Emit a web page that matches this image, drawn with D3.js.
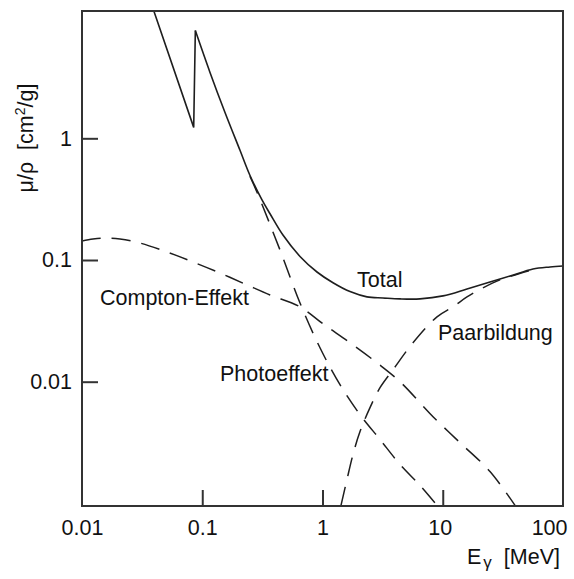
<!DOCTYPE html>
<html>
<head>
<meta charset="utf-8">
<script src="https://cdn.jsdelivr.net/npm/d3@7"></script>
<style>
  html, body { margin: 0; padding: 0; background: #fff; }
  svg { display: block; }
  text { font-family: "Liberation Sans", Arial, Helvetica, sans-serif; fill: #111; }
</style>
</head>
<body>
<svg id="chart" width="574" height="579"></svg>
<script>
// ---- data (photon energy in MeV, mass attenuation coefficient in cm^2/g) ----
const totalBelowEdgeE  = [0.0397, 0.0849];
const totalBelowEdgeMu = [11.0, 1.23];
const totalE  = [0.0876, 0.116, 0.1546, 0.206, 0.249, 0.314, 0.366, 0.469, 0.650, 0.900, 1.223, 1.693, 2.344, 3.185, 4.41, 6.47, 10.05, 15.9, 24.7, 36.3, 56.3, 78, 100];
const totalMu = [7.68, 3.48, 1.63, 0.797, 0.497, 0.312, 0.240, 0.1603, 0.1070, 0.0797, 0.0650, 0.0550, 0.0498, 0.0488, 0.0479, 0.0479, 0.0507, 0.0578, 0.0660, 0.0739, 0.0844, 0.0877, 0.0893];

const photoE  = [0.249, 0.2853, 0.4432, 0.650, 0.953, 1.398, 2.051, 3.008, 4.41, 6.47, 8.96];
const photoMu = [0.488, 0.3607, 0.1208, 0.0444, 0.0190, 0.00945, 0.00536, 0.00335, 0.00209, 0.001405, 0.000963];

const comptonE  = [0.01, 0.01234, 0.01553, 0.0207, 0.0304, 0.0509, 0.0838, 0.1405, 0.2356, 0.366, 0.650, 1.0097, 1.693, 2.84, 4.41, 8.30, 13.9, 24.7, 39.9];
const comptonMu = [0.1431, 0.1486, 0.1515, 0.1486, 0.1378, 0.1163, 0.0963, 0.0782, 0.0624, 0.0516, 0.0412, 0.0299, 0.0209, 0.0143, 0.0100, 0.00516, 0.00316, 0.00183, 0.000963];

const paarE  = [1.425, 1.598, 1.793, 2.051, 2.483, 3.008, 3.857, 5.656, 8.96, 12.17, 15.9, 21.6, 29.9, 39.9, 58.5];
const paarMu = [0.000963, 0.001573, 0.002521, 0.00389, 0.00612, 0.00893, 0.01254, 0.0209, 0.0341, 0.0412, 0.0497, 0.0590, 0.0686, 0.0753, 0.0844];

const xTickValues = [0.01, 0.1, 1, 10, 100];
const xTickLabels = ["0.01", "0.1", "1", "10", "100"];
const yTickValues = [0.01, 0.1, 1];
const yTickLabels = ["0.01", "0.1", "1"];

const curveLabels = ["Total", "Compton-Effekt", "Photoeffekt", "Paarbildung"];

// ---- layout ----
const pLeft = 82, pRight = 563, pTop = 11, pBottom = 506;
const svg = d3.select("#chart");

const x = d3.scaleLog().domain([0.01, 100]).range([pLeft, pRight]);
const y = d3.scaleLog().domain([0.000952, 11.12]).range([pBottom, pTop]);

svg.append("defs").append("clipPath").attr("id", "plotclip")
  .append("rect").attr("x", pLeft).attr("y", pTop).attr("width", pRight - pLeft).attr("height", pBottom - pTop);

const lineColor = "#1e1e1e";
const dash = "19,11";

const zip = (a, b) => a.map((v, i) => [v, b[i]]);
const smooth = d3.line().x(d => x(d[0])).y(d => y(d[1])).curve(d3.curveCatmullRom.alpha(0.5));
const straight = d3.line().x(d => x(d[0])).y(d => y(d[1])).curve(d3.curveLinear);

const plot = svg.append("g").attr("clip-path", "url(#plotclip)");

// dashed components
[[comptonE, comptonMu], [photoE, photoMu], [paarE, paarMu]].forEach(([e, m]) => {
  plot.append("path")
    .attr("d", smooth(zip(e, m)))
    .attr("fill", "none")
    .attr("stroke", lineColor)
    .attr("stroke-width", 1.5)
    .attr("stroke-dasharray", dash);
});

// total: straight part below K edge + jump, then smooth part
const totalLow = zip(totalBelowEdgeE, totalBelowEdgeMu).concat([[totalE[0], totalMu[0]]]);
plot.append("path")
  .attr("d", straight(totalLow))
  .attr("fill", "none").attr("stroke", lineColor).attr("stroke-width", 1.6)
  .attr("stroke-linejoin", "miter");
plot.append("path")
  .attr("d", smooth(zip(totalE, totalMu)))
  .attr("fill", "none").attr("stroke", lineColor).attr("stroke-width", 1.6);

// axes ticks
const fontSize = 21.5;
const xAxis = d3.axisBottom(x).tickValues(xTickValues)
  .tickFormat((d, i) => xTickLabels[i]).tickSize(-16).tickPadding(14);
const gx = svg.append("g").attr("transform", `translate(0,${pBottom})`).call(xAxis);
gx.select(".domain").remove();
gx.selectAll(".tick line").attr("stroke", "#333").attr("stroke-width", 2)
  .attr("display", d => (d === 0.01 || d === 100) ? "none" : null);
gx.selectAll(".tick text").attr("font-size", fontSize).attr("fill", "#111")
  .style("font-family", '"Liberation Sans", Arial, sans-serif');
gx.selectAll(".tick text").filter(d => d === 100).attr("text-anchor", "end").attr("x", 4);
gx.selectAll(".tick text").filter(d => d === 10).attr("x", -3);

const yAxis = d3.axisLeft(y).tickValues(yTickValues)
  .tickFormat((d, i) => yTickLabels[i]).tickSize(-16).tickPadding(10);
const gy = svg.append("g").attr("transform", `translate(${pLeft},0)`).call(yAxis);
gy.select(".domain").remove();
gy.selectAll(".tick line").attr("stroke", "#333").attr("stroke-width", 2);
gy.selectAll(".tick text").attr("font-size", fontSize).attr("fill", "#111")
  .style("font-family", '"Liberation Sans", Arial, sans-serif');

// frame
svg.append("rect")
  .attr("x", pLeft).attr("y", pTop).attr("width", pRight - pLeft).attr("height", pBottom - pTop)
  .attr("fill", "none").attr("stroke", "#333").attr("stroke-width", 2);

// curve labels
const labelPos = [[357, 287], [100, 305], [220, 381], [438, 340]];
curveLabels.forEach((t, i) => {
  svg.append("text").attr("x", labelPos[i][0]).attr("y", labelPos[i][1])
    .attr("font-size", fontSize).text(t);
});

// x axis title
const xt = svg.append("text").attr("x", 467).attr("y", 564).attr("font-size", fontSize);
xt.append("tspan").text("E");
xt.append("tspan").attr("dx", 2).attr("dy", 4).attr("font-size", 17).text("γ");
xt.append("tspan").attr("dy", -4).text("\u00a0\u00a0[MeV]");

// y axis title
const yt = svg.append("text")
  .attr("transform", "translate(33,138) rotate(-90)")
  .attr("text-anchor", "middle").attr("font-size", fontSize);
yt.append("tspan").text("μ/ρ\u00a0\u00a0[cm");
yt.append("tspan").attr("dy", -8).attr("font-size", 14).text("2");
yt.append("tspan").attr("dy", 8).text("/g]");
</script>
</body>
</html>
